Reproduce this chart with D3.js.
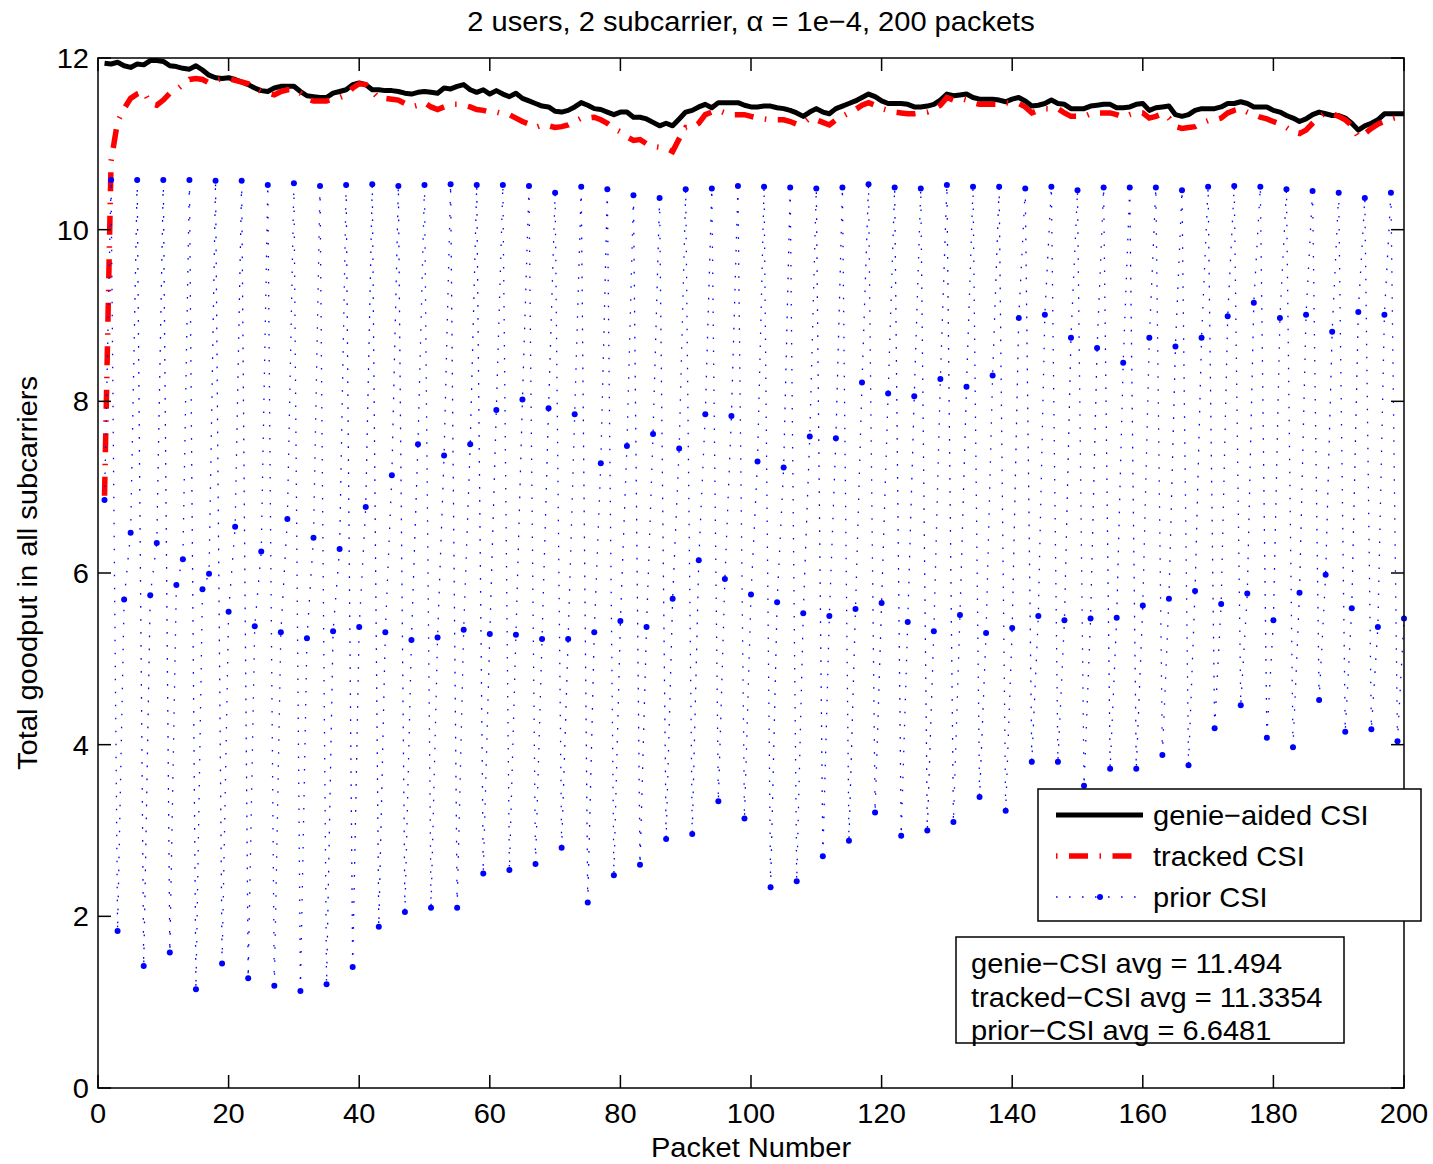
<!DOCTYPE html>
<meta charset="utf-8">
<body style="margin:0; background:#fff">

<script src="https://d3js.org/d3.v7.min.js"></script>
<script>

// ---- data ----
var packets = d3.range(1, 201);   // packet number 1..200

var genie = [
  11.94, 11.93, 11.95, 11.91, 11.89, 11.93, 11.92, 11.97, 11.97, 11.96,
  11.91, 11.90, 11.88, 11.87, 11.91, 11.86, 11.80, 11.77, 11.76, 11.77,
  11.75, 11.72, 11.69, 11.65, 11.62, 11.61, 11.65, 11.67, 11.67, 11.67,
  11.61, 11.56, 11.55, 11.54, 11.54, 11.59, 11.61, 11.63, 11.69, 11.71,
  11.69, 11.63, 11.63, 11.62, 11.62, 11.61, 11.59, 11.58, 11.60, 11.61,
  11.60, 11.59, 11.65, 11.64, 11.67, 11.69, 11.63, 11.60, 11.63, 11.58,
  11.62, 11.58, 11.55, 11.59, 11.53, 11.50, 11.47, 11.44, 11.43, 11.38,
  11.37, 11.39, 11.43, 11.48, 11.45, 11.41, 11.40, 11.37, 11.34, 11.37,
  11.37, 11.31, 11.31, 11.29, 11.25, 11.21, 11.24, 11.21, 11.29, 11.37,
  11.39, 11.43, 11.46, 11.42, 11.48, 11.48, 11.48, 11.48, 11.45, 11.43,
  11.43, 11.44, 11.44, 11.42, 11.41, 11.39, 11.36, 11.32, 11.37, 11.41,
  11.37, 11.35, 11.41, 11.44, 11.47, 11.50, 11.54, 11.58, 11.55, 11.50,
  11.47, 11.47, 11.47, 11.46, 11.43, 11.43, 11.44, 11.46, 11.51, 11.58,
  11.56, 11.57, 11.58, 11.54, 11.52, 11.52, 11.52, 11.51, 11.49, 11.52,
  11.54, 11.50, 11.44, 11.45, 11.47, 11.51, 11.47, 11.46, 11.41, 11.41,
  11.41, 11.44, 11.45, 11.46, 11.46, 11.42, 11.42, 11.43, 11.46, 11.47,
  11.39, 11.42, 11.43, 11.44, 11.34, 11.32, 11.34, 11.39, 11.41, 11.41,
  11.41, 11.43, 11.47, 11.47, 11.49, 11.47, 11.43, 11.43, 11.43, 11.39,
  11.37, 11.33, 11.30, 11.26, 11.29, 11.34, 11.37, 11.35, 11.33, 11.33,
  11.30, 11.24, 11.16, 11.21, 11.24, 11.28, 11.35, 11.35, 11.35, 11.35
];

var tracked = [
   6.90, 10.80, 11.26, 11.41, 11.53, 11.58, 11.61, 11.47, 11.45, 11.51,
  11.59, 11.63, 11.69, 11.75, 11.76, 11.75, 11.71, 11.74, 11.76, 11.76,
  11.74, 11.72, 11.70, 11.65, 11.61, 11.59, 11.57, 11.61, 11.63, 11.63,
  11.59, 11.52, 11.50, 11.50, 11.50, 11.52, 11.54, 11.57, 11.65, 11.70,
  11.69, 11.61, 11.53, 11.53, 11.52, 11.51, 11.47, 11.43, 11.45, 11.48,
  11.43, 11.40, 11.43, 11.46, 11.46, 11.45, 11.43, 11.40, 11.39, 11.37,
  11.37, 11.35, 11.34, 11.30, 11.26, 11.23, 11.19, 11.22, 11.21, 11.19,
  11.20, 11.22, 11.26, 11.30, 11.30, 11.31, 11.28, 11.24, 11.18, 11.14,
  11.08, 11.04, 11.05, 11.00, 10.97, 10.96, 10.95, 10.91, 11.06, 11.19,
  11.19, 11.24, 11.34, 11.37, 11.39, 11.36, 11.34, 11.34, 11.34, 11.32,
  11.30, 11.29, 11.28, 11.28, 11.28, 11.26, 11.23, 11.24, 11.30, 11.28,
  11.25, 11.22, 11.28, 11.32, 11.36, 11.40, 11.45, 11.48, 11.45, 11.41,
  11.39, 11.37, 11.36, 11.35, 11.35, 11.36, 11.37, 11.40, 11.45, 11.54,
  11.51, 11.53, 11.51, 11.48, 11.46, 11.46, 11.46, 11.46, 11.48, 11.47,
  11.47, 11.43, 11.36, 11.39, 11.41, 11.41, 11.41, 11.36, 11.32, 11.32,
  11.32, 11.35, 11.36, 11.36, 11.36, 11.34, 11.31, 11.34, 11.36, 11.36,
  11.30, 11.32, 11.35, 11.30, 11.20, 11.18, 11.19, 11.20, 11.24, 11.27,
  11.28, 11.30, 11.36, 11.39, 11.41, 11.37, 11.34, 11.31, 11.29, 11.26,
  11.23, 11.19, 11.14, 11.12, 11.16, 11.24, 11.31, 11.36, 11.35, 11.32,
  11.28, 11.21, 11.08, 11.12, 11.18, 11.23, 11.26, 11.29, 11.31, 11.34
];

// prior CSI, four packets per group
var prior = [
  6.85, 10.58, 1.83, 5.69,   6.47, 10.58, 1.42, 5.74,
  6.35, 10.58, 1.58, 5.86,   6.16, 10.58, 1.15, 5.81,
  5.99, 10.57, 1.45, 5.55,   6.54, 10.57, 1.28, 5.38,
  6.25, 10.52, 1.19, 5.31,   6.63, 10.54, 1.13, 5.24,
  6.41, 10.51, 1.21, 5.32,   6.28, 10.52, 1.41, 5.37,
  6.77, 10.53, 1.88, 5.31,   7.14, 10.51, 2.05, 5.22,
  7.50, 10.52, 2.10, 5.25,   7.37, 10.53, 2.10, 5.34,
  7.50, 10.52, 2.50, 5.29,   7.90, 10.52, 2.54, 5.28,
  8.02, 10.51, 2.61, 5.23,   7.92, 10.43, 2.80, 5.23,
  7.85, 10.50, 2.16, 5.31,   7.28, 10.47, 2.48, 5.44,
  7.48, 10.40, 2.60, 5.37,   7.62, 10.37, 2.90, 5.70,
  7.45, 10.47, 2.96, 6.15,   7.85, 10.48, 3.34, 5.93,
  7.83, 10.51, 3.14, 5.75,   7.30, 10.50, 2.34, 5.66,
  7.23, 10.49, 2.41, 5.53,   7.59, 10.48, 2.70, 5.50,
  7.57, 10.49, 2.88, 5.58,   8.22, 10.53, 3.21, 5.65,
  8.09, 10.49, 2.94, 5.43,   8.06, 10.48, 3.00, 5.32,
  8.26, 10.52, 3.10, 5.51,   8.17, 10.50, 3.39, 5.30,
  8.30, 10.50, 3.23, 5.36,   8.97, 10.48, 3.80, 5.50,
  9.01, 10.50, 3.80, 5.45,   8.74, 10.46, 3.52, 5.47,
  8.62, 10.49, 3.72, 5.48,   8.45, 10.49, 3.72, 5.62,
  8.74, 10.49, 3.88, 5.70,   8.64, 10.46, 3.76, 5.79,
  8.74, 10.50, 4.19, 5.64,   8.99, 10.51, 4.46, 5.76,
  9.15, 10.50, 4.08, 5.45,   8.97, 10.47, 3.97, 5.77,
  9.01, 10.45, 4.52, 5.98,   8.81, 10.43, 4.15, 5.59,
  9.04, 10.37, 4.18, 5.37,   9.01, 10.43, 4.04, 5.47
];

var xTicks = [0, 20, 40, 60, 80, 100, 120, 140, 160, 180, 200];
var yTicks = [0, 2, 4, 6, 8, 10, 12];

var legendLabels = ["genie\u2212aided CSI", "tracked CSI", "prior CSI"];
var avgLabels = ["genie\u2212CSI avg = 11.494",
                 "tracked\u2212CSI avg = 11.3354",
                 "prior\u2212CSI avg = 6.6481"];
var titleText = "2 users, 2 subcarrier, \u03b1 = 1e\u22124, 200 packets";

// ---- layout ----
var W = 1433, H = 1164;
var plot = {left: 98, right: 1404, top: 58, bottom: 1088};
var fontSize = 28.5, stretch = 1.02;
var redDash = "19,11.5,1.5,11.5";
var blueDot = "1.6,11.4";

var x = d3.scaleLinear().domain([0, 200]).range([plot.left, plot.right]);
var y = d3.scaleLinear().domain([0, 12]).range([plot.bottom, plot.top]);

var svg = d3.select("body").append("svg")
    .attr("width", W)
    .attr("height", H)
    .style("font-family", "'Liberation Sans', Arial, Helvetica, sans-serif");

svg.append("rect").attr("width", W).attr("height", H).attr("fill", "#fff");

// text helper: slightly stretched along the writing direction
function label(g, px, py, str, anchor, rot) {
  return g.append("text")
      .attr("transform", "translate(" + px + "," + py + ")" +
            (rot ? " rotate(" + rot + ")" : "") + " scale(" + stretch + ",1)")
      .attr("text-anchor", anchor)
      .style("font-size", fontSize + "px")
      .attr("fill", "#000")
      .text(str);
}

// ---- series ----
var line = d3.line()
    .x(function(d, i) { return x(packets[i]); })
    .y(function(d) { return y(d); });

svg.append("path")
    .datum(genie)
    .attr("d", line)
    .attr("fill", "none")
    .attr("stroke", "#000")
    .attr("stroke-width", 5)
    .attr("stroke-linejoin", "round");

svg.append("path")
    .datum(tracked)
    .attr("d", line)
    .attr("fill", "none")
    .attr("stroke", "#ff0000")
    .attr("stroke-width", 5.5)
    .attr("stroke-dasharray", redDash);

svg.append("path")
    .datum(prior)
    .attr("d", line)
    .attr("fill", "none")
    .attr("stroke", "#0000ff")
    .attr("stroke-width", 1.3)
    .attr("stroke-dasharray", blueDot);

svg.selectAll(".dot")
    .data(prior)
    .enter().append("circle")
    .attr("class", "dot")
    .attr("cx", function(d, i) { return x(packets[i]); })
    .attr("cy", function(d) { return y(d); })
    .attr("r", 3)
    .attr("fill", "#0000ff");

// ---- axes (box with inward ticks on all sides) ----
var tickLen = 13;
var axes = svg.append("g")
    .attr("stroke", "#000")
    .attr("stroke-width", 1.5);

axes.append("rect")
    .attr("x", plot.left).attr("y", plot.top)
    .attr("width", plot.right - plot.left).attr("height", plot.bottom - plot.top)
    .attr("fill", "none");

xTicks.forEach(function(t) {
  axes.append("line").attr("x1", x(t)).attr("x2", x(t))
      .attr("y1", plot.bottom).attr("y2", plot.bottom - tickLen);
  axes.append("line").attr("x1", x(t)).attr("x2", x(t))
      .attr("y1", plot.top).attr("y2", plot.top + tickLen);
  label(svg, x(t), plot.bottom + 35, t, "middle");
});

yTicks.forEach(function(t) {
  axes.append("line").attr("y1", y(t)).attr("y2", y(t))
      .attr("x1", plot.left).attr("x2", plot.left + tickLen);
  axes.append("line").attr("y1", y(t)).attr("y2", y(t))
      .attr("x1", plot.right).attr("x2", plot.right - tickLen);
  label(svg, plot.left - 9, y(t) + 10, t, "end");
});

// axis titles and chart title
label(svg, (plot.left + plot.right) / 2, 1157, "Packet Number", "middle");
label(svg, 37, (plot.top + plot.bottom) / 2, "Total goodput in all subcarriers", "middle", -90);
label(svg, (plot.left + plot.right) / 2, 31, titleText, "middle");

// ---- legend ----
var lg = svg.append("g");
lg.append("rect")
    .attr("x", 1038).attr("y", 789)
    .attr("width", 383).attr("height", 132)
    .attr("fill", "#fff").attr("stroke", "#000").attr("stroke-width", 1.5);

var rowY = [815, 856, 897];
lg.append("line").attr("x1", 1056).attr("x2", 1143)
    .attr("y1", rowY[0]).attr("y2", rowY[0])
    .attr("stroke", "#000").attr("stroke-width", 5);
lg.append("line").attr("x1", 1056).attr("x2", 1143)
    .attr("y1", rowY[1]).attr("y2", rowY[1])
    .attr("stroke", "#ff0000").attr("stroke-width", 5.5)
    .attr("stroke-dasharray", redDash).attr("stroke-dashoffset", 30.5);
lg.append("line").attr("x1", 1056).attr("x2", 1143)
    .attr("y1", rowY[2]).attr("y2", rowY[2])
    .attr("stroke", "#0000ff").attr("stroke-width", 1.3)
    .attr("stroke-dasharray", blueDot);
lg.append("circle").attr("cx", 1100).attr("cy", rowY[2]).attr("r", 3)
    .attr("fill", "#0000ff");

legendLabels.forEach(function(s, i) {
  label(lg, 1153, rowY[i] + 10, s, "start");
});

// ---- averages box ----
var ab = svg.append("g");
ab.append("rect")
    .attr("x", 956).attr("y", 937)
    .attr("width", 388).attr("height", 106)
    .attr("fill", "#fff").attr("stroke", "#000").attr("stroke-width", 1.5);

var avgY = [973, 1007, 1040];
avgLabels.forEach(function(s, i) {
  label(ab, 971, avgY[i], s, "start");
});

</script>
</body>
